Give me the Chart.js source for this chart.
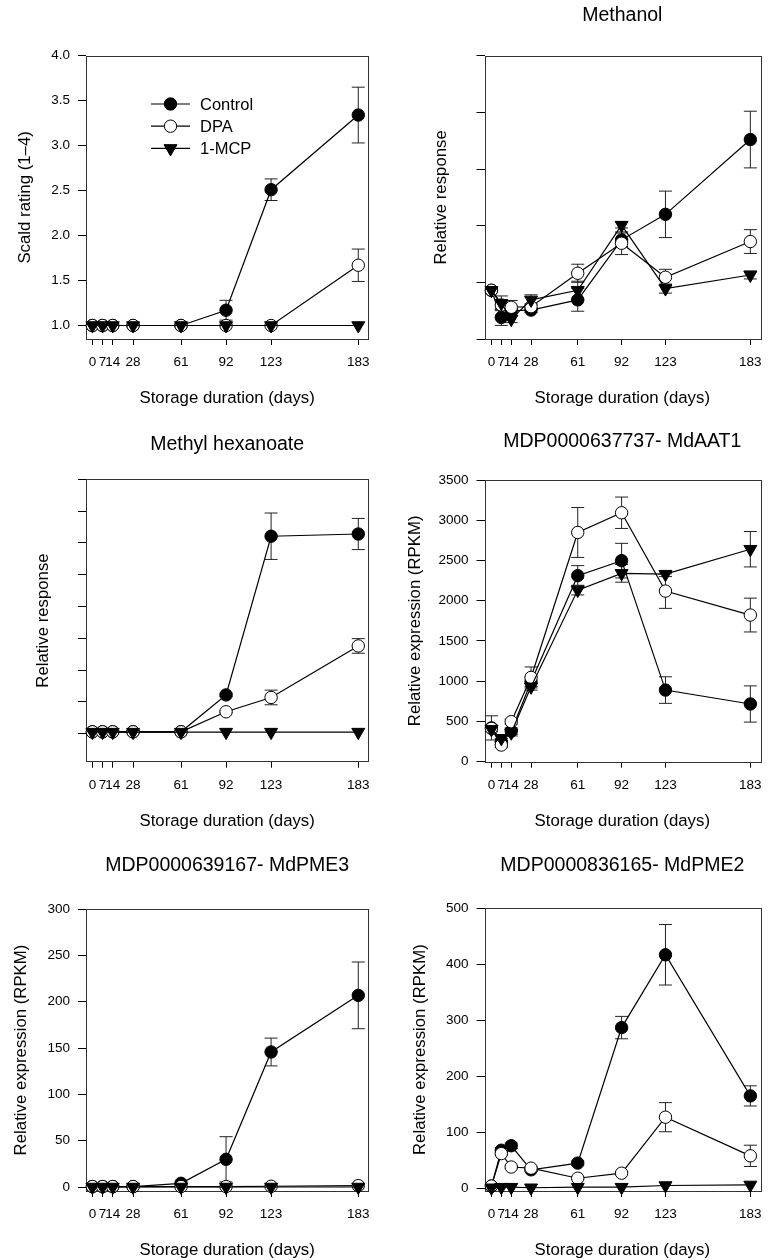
<!DOCTYPE html>
<html>
<head>
<meta charset="utf-8">
<script src="https://cdn.jsdelivr.net/npm/chart.js@4.4.1/dist/chart.umd.min.js"></script>
<style>
  body { margin: 0; background: #fff; }
  #wrap { position: relative; width: 771px; height: 1260px; }
  #wrap canvas { position: absolute; }
</style>
</head>
<body>
<div id="wrap">
  <canvas id="scald" width="385" height="420" style="left:0;top:0"></canvas>
  <canvas id="methanol" width="386" height="420" style="left:385px;top:0"></canvas>
  <canvas id="hexanoate" width="385" height="420" style="left:0;top:420px"></canvas>
  <canvas id="aat1" width="386" height="420" style="left:385px;top:420px"></canvas>
  <canvas id="pme3" width="385" height="420" style="left:0;top:840px"></canvas>
  <canvas id="pme2" width="386" height="420" style="left:385px;top:840px"></canvas>
</div>
<script>
// storage days (x ticks) and treatments
const days = [0, 7, 14, 28, 61, 92, 123, 183];
const treatments = ['Control', 'DPA', '1-MCP'];

// Scald rating (1-4)
const scaldControl = [1, 1, 1, 1, 1, 1.17, 2.51, 3.34];
const scaldControlErr = [0, 0, 0, 0, 0, 0.11, 0.12, 0.31];
const scaldDPA = [1, 1, 1, 1, 1, 1, 1, 1.67];
const scaldDPAErr = [0, 0, 0, 0, 0, 0, 0, 0.18];
const scaldMCP = [1, 1, 1, 1, 1, 1, 1, 1];
const scaldMCPErr = [0, 0, 0, 0, 0, 0, 0, 0];
const scaldTicks = [1, 1.5, 2, 2.5, 3, 3.5, 4];

// Methanol (relative response)
const methControl = [0.86, 0.38, 0.5, 0.51, 0.69, 1.75, 2.2, 3.52];
const methControlErr = [0.03, 0.14, 0.05, 0.04, 0.2, 0.12, 0.41, 0.5];
const methDPA = [0.86, 0.6, 0.56, 0.57, 1.16, 1.69, 1.09, 1.72];
const methDPAErr = [0.03, 0.06, 0.12, 0.05, 0.16, 0.2, 0.14, 0.21];
const methMCP = [0.86, 0.63, 0.35, 0.69, 0.86, 2.01, 0.89, 1.13];
const methMCPErr = [0.04, 0.13, 0.06, 0.09, 0.16, 0.05, 0.08, 0.07];
const methTicks = [0, 1, 2, 3, 4, 5];

// Methyl hexanoate (relative response)
const hexControl = [0.06, 0.06, 0.06, 0.06, 0.06, 1.22, 6.21, 6.28];
const hexControlErr = [0, 0, 0, 0, 0, 0.05, 0.73, 0.49];
const hexDPA = [0.06, 0.06, 0.06, 0.06, 0.06, 0.69, 1.14, 2.76];
const hexDPAErr = [0, 0, 0, 0, 0, 0.03, 0.23, 0.23];
const hexMCP = [0.05, 0.05, 0.05, 0.05, 0.05, 0.05, 0.05, 0.05];
const hexMCPErr = [0, 0, 0, 0, 0, 0, 0, 0];
const hexTicks = [0, 1, 2, 3, 4, 5, 6, 7, 8];

// MDP0000637737 - MdAAT1 (RPKM)
const aatControl = [420, 250, 380, 994, 2311, 2498, 890, 717];
const aatControlErr = [150, 40, 40, 60, 125, 215, 165, 225];
const aatDPA = [414, 207, 497, 1047, 2848, 3093, 2120, 1822];
const aatDPAErr = [40, 30, 30, 130, 310, 195, 215, 210];
const aatMCP = [402, 290, 360, 930, 2132, 2340, 2330, 2640];
const aatMCPErr = [30, 40, 40, 40, 60, 110, 30, 220];
const aatTicks = [0, 500, 1000, 1500, 2000, 2500, 3000, 3500];

// MDP0000639167 - MdPME3 (RPKM)
const pme3Control = [0.5, 0.5, 0.5, 0.5, 4, 29.9, 145.7, 206.8];
const pme3ControlErr = [0, 0, 0, 0, 0, 24.4, 15, 36];
const pme3DPA = [0.5, 0.5, 0.5, 0.5, 0.5, 0.5, 0.8, 1.5];
const pme3DPAErr = [0, 0, 0, 0, 0, 0, 0, 0];
const pme3MCP = [0, 0, 0, 0, 0, 0, 0, 0];
const pme3MCPErr = [0, 0, 0, 0, 0, 0, 0, 0];
const pme3Ticks = [0, 50, 100, 150, 200, 250, 300];

// MDP0000836165 - MdPME2 (RPKM)
const pme2Control = [4, 68, 76, 33, 45, 287, 417, 165];
const pme2ControlErr = [0, 5, 5, 3, 4, 20, 54, 18];
const pme2DPA = [4, 62, 38, 36, 18, 27, 127, 58];
const pme2DPAErr = [0, 3, 3, 3, 2, 3, 26, 19];
const pme2MCP = [1, 2, 2, 1, 2, 2, 5, 6];
const pme2MCPErr = [0, 0, 0, 0, 0, 0, 0, 0];
const pme2Ticks = [0, 100, 200, 300, 400, 500];

const FONT = '"Liberation Sans", Arial, Helvetica, sans-serif';
const TICK_SIZE = 13.5, AXIS_SIZE = 16.8, TITLE_SIZE = 19.5;

// marker look for Control / DPA / 1-MCP (1-MCP drawn on top)
const markers = [
  { pointStyle: 'circle', pointRadius: 6.2, pointBackgroundColor: '#000', pointRotation: 0, order: 2 },
  { pointStyle: 'circle', pointRadius: 6.2, pointBackgroundColor: '#fff', pointRotation: 0, order: 1 },
  { pointStyle: 'triangle', pointRadius: 7.5, pointBackgroundColor: '#000', pointRotation: 180, order: 0 }
];

const errorBars = {
  id: 'errorBars',
  beforeDatasetsDraw(chart) {
    const ctx = chart.ctx, y = chart.scales.y;
    ctx.save();
    ctx.strokeStyle = '#222';
    ctx.lineWidth = 1;
    chart.data.datasets.forEach((ds, i) => {
      const meta = chart.getDatasetMeta(i);
      ds.errors.forEach((e, j) => {
        if (!e) return;
        const x = meta.data[j].x;
        const v = ds.data[j].y;
        const t = y.getPixelForValue(v + e), b = y.getPixelForValue(v - e);
        ctx.beginPath();
        ctx.moveTo(x, t); ctx.lineTo(x, b);
        ctx.moveTo(x - 6.5, t); ctx.lineTo(x + 6.5, t);
        ctx.moveTo(x - 6.5, b); ctx.lineTo(x + 6.5, b);
        ctx.stroke();
      });
    });
    ctx.restore();
  }
};

const frame = {
  id: 'frame',
  beforeDatasetsDraw(chart) {
    const a = chart.chartArea, ctx = chart.ctx;
    ctx.save();
    ctx.strokeStyle = '#333';
    ctx.lineWidth = 1;
    ctx.strokeRect(Math.round(a.left) + 0.5, Math.round(a.top) + 0.5,
      Math.round(a.right - a.left), Math.round(a.bottom - a.top));
    ctx.restore();
  }
};

// legend with line + marker, drawn inside the plot area
const seriesKey = {
  id: 'seriesKey',
  afterDatasetsDraw(chart, args, opts) {
    if (!opts.show) return;
    const ctx = chart.ctx, a = chart.chartArea;
    ctx.save();
    chart.data.datasets.forEach((ds, i) => {
      const yy = a.top + opts.top + i * opts.gap;
      const x0 = a.left + opts.left;
      ctx.strokeStyle = '#000';
      ctx.lineWidth = 1.2;
      ctx.beginPath();
      ctx.moveTo(x0, yy); ctx.lineTo(x0 + 39, yy);
      ctx.stroke();
      ctx.fillStyle = ds.pointBackgroundColor;
      ctx.lineWidth = 1;
      Chart.helpers.drawPoint(ctx, {
        pointStyle: ds.pointStyle, radius: ds.pointRadius,
        rotation: ds.pointRotation, borderWidth: 1
      }, x0 + 19.5, yy);
      ctx.fillStyle = '#000';
      ctx.font = '16.5px ' + FONT;
      ctx.textBaseline = 'middle';
      ctx.fillText(ds.label, x0 + 49, yy + 1);
    });
    ctx.restore();
  }
};

function panel(p) {
  const canvas = document.getElementById(p.id);
  const W = canvas.width, H = canvas.height;
  const tlh = TITLE_SIZE * 1.2, alh = AXIS_SIZE * 1.2;
  const datasets = p.series.map((s, i) => Object.assign({
    label: treatments[i],
    data: days.map((d, j) => ({ x: d, y: s[0][j] })),
    errors: s[1],
    borderColor: '#000',
    borderWidth: 1.2,
    pointBorderColor: '#000',
    pointBorderWidth: 1,
    clip: false
  }, markers[i]));

  new Chart(canvas, {
    type: 'line',
    data: { datasets },
    options: {
      responsive: false,
      animation: false,
      events: [],
      layout: { padding: { top: p.title ? 0 : p.box.top, right: W - p.box.right, left: 0, bottom: 0 } },
      plugins: {
        legend: { display: false },
        tooltip: { enabled: false },
        title: {
          display: !!p.title,
          text: p.title || '',
          fullSize: false,
          color: '#000',
          font: { family: FONT, size: TITLE_SIZE, weight: 'normal' },
          padding: { top: p.titleY - tlh / 2, bottom: p.box.top - p.titleY - tlh / 2 }
        },
        seriesKey: { show: !!p.legend, left: 65, top: 48.3, gap: 22.2 }
      },
      scales: {
        x: {
          type: 'linear',
          min: p.xMin, max: p.xMax,
          afterBuildTicks: s => { s.ticks = days.map(v => ({ value: v })); },
          afterFit: s => { s.height = H - p.box.bottom; },
          grid: { drawOnChartArea: false, tickLength: 6, color: '#000' },
          border: { display: false },
          ticks: {
            autoSkip: false, maxRotation: 0, padding: 9, color: '#000',
            font: { family: FONT, size: TICK_SIZE },
            callback: v => String(v)
          },
          title: {
            display: true, text: 'Storage duration (days)', color: '#000',
            font: { family: FONT, size: AXIS_SIZE },
            padding: { top: 0, bottom: p.xTitleBottom - alh / 2 }
          }
        },
        y: {
          min: p.yMin, max: p.yMax,
          afterBuildTicks: s => { s.ticks = p.yTicks.map(v => ({ value: v })); },
          afterFit: s => { s.width = p.box.left; },
          grid: { drawOnChartArea: false, tickLength: 8, color: '#000' },
          border: { display: false },
          ticks: {
            display: p.yLabels, padding: 8, color: '#000',
            font: { family: FONT, size: TICK_SIZE },
            callback: v => v.toFixed(p.decimals)
          },
          title: {
            display: true, text: p.yTitle, color: '#000',
            font: { family: FONT, size: AXIS_SIZE },
            padding: { top: p.yTitleX - alh / 2, bottom: 0 }
          }
        }
      }
    },
    plugins: [frame, errorBars, seriesKey]
  });
}

const leftBox = (top, bottom) => ({ left: 86, right: 368.3, top, bottom });
const rightBox = (top, bottom) => ({ left: 99.5, right: 382.3, top, bottom });

panel({
  id: 'scald', box: leftBox(55.7, 339), xMin: -4.4, xMax: 189.9,
  yMin: 0.85, yMax: 4, yTicks: scaldTicks, yLabels: true, decimals: 1,
  yTitle: 'Scald rating (1–4)', yTitleX: 25, xTitleBottom: 21.7, legend: true,
  series: [[scaldControl, scaldControlErr], [scaldDPA, scaldDPAErr], [scaldMCP, scaldMCPErr]]
});
panel({
  id: 'methanol', box: rightBox(55.7, 339), xMin: -4.9, xMax: 189.9,
  yMin: 0, yMax: 5, yTicks: methTicks, yLabels: false, decimals: 0,
  title: 'Methanol', titleY: 16,
  yTitle: 'Relative response', yTitleX: 56.7, xTitleBottom: 21.7,
  series: [[methControl, methControlErr], [methDPA, methDPAErr], [methMCP, methMCPErr]]
});
panel({
  id: 'hexanoate', box: leftBox(59.3, 341.7), xMin: -4.4, xMax: 189.9,
  yMin: -0.88, yMax: 8, yTicks: hexTicks, yLabels: false, decimals: 0,
  title: 'Methyl hexanoate', titleY: 24.5,
  yTitle: 'Relative response', yTitleX: 43.3, xTitleBottom: 18.3,
  series: [[hexControl, hexControlErr], [hexDPA, hexDPAErr], [hexMCP, hexMCPErr]]
});
panel({
  id: 'aat1', box: rightBox(60, 341.7), xMin: -4.9, xMax: 189.9,
  yMin: 0, yMax: 3500, yTicks: aatTicks, yLabels: true, decimals: 0,
  title: 'MDP0000637737- MdAAT1', titleY: 21.5,
  yTitle: 'Relative expression (RPKM)', yTitleX: 30, xTitleBottom: 18.3,
  series: [[aatControl, aatControlErr], [aatDPA, aatDPAErr], [aatMCP, aatMCPErr]]
});
panel({
  id: 'pme3', box: leftBox(69, 351), xMin: -4.4, xMax: 189.9,
  yMin: -4.3, yMax: 300, yTicks: pme3Ticks, yLabels: true, decimals: 0,
  title: 'MDP0000639167- MdPME3', titleY: 26,
  yTitle: 'Relative expression (RPKM)', yTitleX: 21.7, xTitleBottom: 10,
  series: [[pme3Control, pme3ControlErr], [pme3DPA, pme3DPAErr], [pme3MCP, pme3MCPErr]]
});
panel({
  id: 'pme2', box: rightBox(68.3, 351), xMin: -4.9, xMax: 189.9,
  yMin: -4.8, yMax: 500, yTicks: pme2Ticks, yLabels: true, decimals: 0,
  title: 'MDP0000836165- MdPME2', titleY: 26,
  yTitle: 'Relative expression (RPKM)', yTitleX: 35, xTitleBottom: 10,
  series: [[pme2Control, pme2ControlErr], [pme2DPA, pme2DPAErr], [pme2MCP, pme2MCPErr]]
});
</script>
</body>
</html>
